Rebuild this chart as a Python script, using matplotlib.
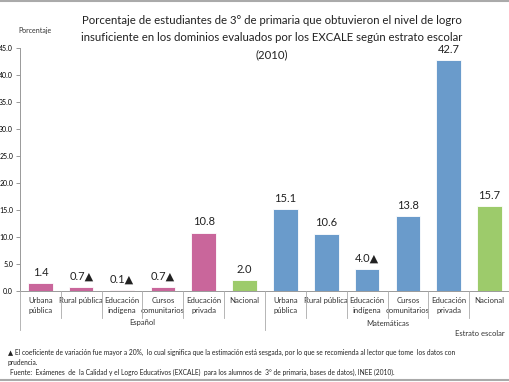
import matplotlib.pyplot as plt
from matplotlib.transforms import blended_transform_factory
from matplotlib.lines import Line2D

plt.rcParams['font.family'] = ['Lato', 'DejaVu Sans']

# data
estratos = ["Urbana\npública", "Rural pública", "Educación\nindígena",
            "Cursos\ncomunitarios", "Educación\nprivada", "Nacional"]
materias = ["Español", "Matemáticas"]
espanol = [1.4, 0.7, 0.1, 0.7, 10.8, 2.0]
matematicas = [15.1, 10.6, 4.0, 13.8, 42.7, 15.7]
sesgo_esp = [False, True, True, True, False, False]
sesgo_mat = [False, False, True, False, False, False]
titulo = ["Porcentaje de estudiantes de 3° de primaria que obtuvieron el nivel de logro",
          "insuficiente en los dominios evaluados por los EXCALE según estrato escolar",
          "(2010)"]

pink = '#C9669B'
blue = '#6A9BCB'
green = '#9DCB6B'

fig = plt.figure(figsize=(5.1, 3.82), dpi=100)
ax = fig.add_axes([20 / 510, 91 / 382, 490 / 510, 243 / 382])

values = espanol + matematicas
flags = sesgo_esp + sesgo_mat
labels = estratos + estratos
colors = []
for m in materias:
    for e in estratos:
        if e == "Nacional":
            colors.append(green)
        elif m == "Español":
            colors.append(pink)
        else:
            colors.append(blue)

x = list(range(len(values)))
ax.bar(x, values, width=0.6, color=colors, edgecolor='white', linewidth=0.6)

for xi, v, f in zip(x, values, flags):
    txt = f"{v:.1f}" + ("▲" if f else "")
    ax.text(xi, v + 1.0, txt, ha='center', va='bottom', fontsize=8, color='#222222')

ax.set_xlim(-0.5, len(values) - 0.5)
ax.set_ylim(0, 45)
ax.set_yticks(range(0, 50, 5))
ax.set_yticklabels([f"{t:.1f}" for t in range(0, 50, 5)], fontsize=5)
ax.tick_params(axis='y', length=3, width=0.6, color='#888888', pad=2)
ax.set_xticks([])
for s in ['top', 'right']:
    ax.spines[s].set_visible(False)
ax.spines['left'].set_color('#999999')
ax.spines['bottom'].set_color('#999999')
ax.spines['left'].set_linewidth(0.7)
ax.spines['bottom'].set_linewidth(0.7)

tr = blended_transform_factory(ax.transData, fig.transFigure)
# category labels
for xi, lab in zip(x, labels):
    ax.text(xi, 1 - 297 / 382, lab, transform=tr, ha='center', va='top',
            fontsize=5.6, color='#333333', linespacing=1.5)
# separators
for i in range(len(values) + 1):
    xs = i - 0.5
    bottom = 1 - 330 / 382 if i % 6 == 0 else 1 - 318 / 382
    fig.add_artist(Line2D([xs, xs], [1 - 291 / 382, bottom], transform=tr,
                          color='#AAAAAA', linewidth=0.6, clip_on=False))
# group labels
for gi, m in enumerate(materias):
    ax.text(gi * 6 + 2.5, 1 - 323 / 382, m, transform=tr, ha='center',
            va='center', fontsize=5.5, color='#333333')

fig.text(505 / 510, 1 - 333 / 382, "Estrato escolar", ha='right', va='center',
         fontsize=5.5, color='#333333')
fig.text(35 / 510, 1 - 31 / 382, "Porcentaje", ha='center', va='center',
         fontsize=5, color='#333333')
for i, line in enumerate(titulo):
    fig.text(272 / 510, 1 - (20 + 17.5 * i) / 382, line, ha='center', va='center',
             fontsize=8.2, color='#222222')

fig.text(8 / 510, 1 - 352 / 382,
         "▲ El coeficiente de variación fue mayor a 20%,  lo cual significa que la estimación está sesgada, "
         "por lo que se recomienda al lector que tome  los datos con", ha='left',
         va='center', fontsize=4.8, color='#222222')
fig.text(8 / 510, 1 - 362 / 382, "prudencia.", ha='left', va='center',
         fontsize=4.8, color='#222222')
fig.text(10 / 510, 1 - 372 / 382,
         "Fuente:  Exámenes  de  la Calidad y el Logro Educativos (EXCALE)  para los alumnos de  3° de primaria, "
         "bases de datos), INEE (2010).", ha='left', va='center', fontsize=4.8,
         color='#222222')

fig.add_artist(Line2D([0, 1], [1 - 1 / 382, 1 - 1 / 382], transform=fig.transFigure,
                      color='#AAAAAA', linewidth=1.5))
fig.add_artist(Line2D([0, 1], [1 - 380 / 382, 1 - 380 / 382], transform=fig.transFigure,
                      color='#AAAAAA', linewidth=1.5))

fig.savefig('out.png', dpi=100)
